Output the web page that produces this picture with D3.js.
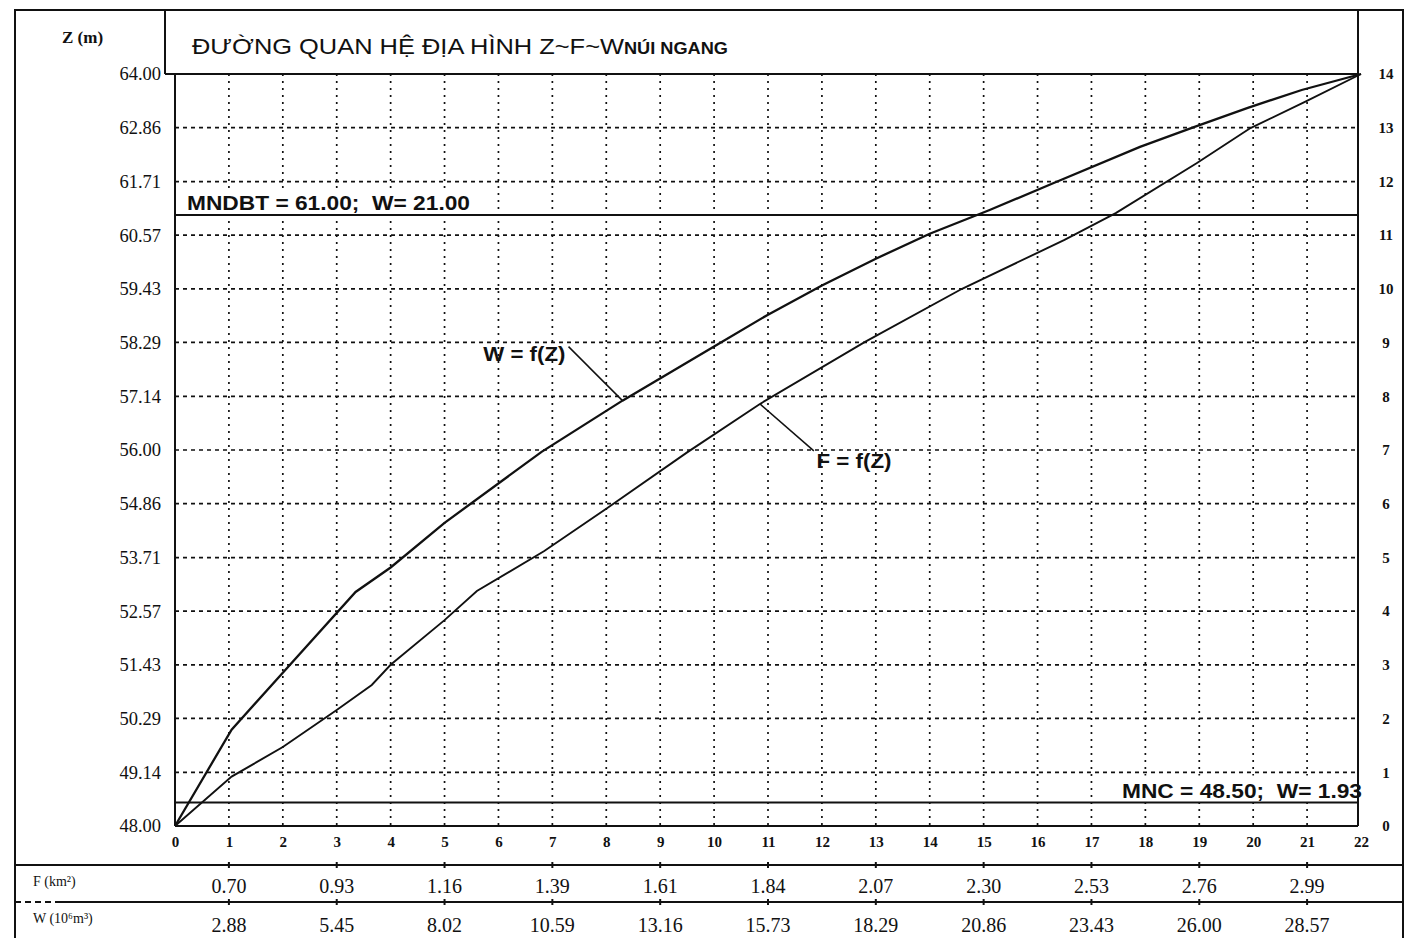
<!DOCTYPE html>
<html>
<head>
<meta charset="utf-8">
<script src="https://cdn.jsdelivr.net/npm/d3@7"></script>
<style>
body { margin: 0; background: #fff; }
text { fill: #111; }
</style>
</head>
<body>
<svg id="view" width="1413" height="938"></svg>
<script>
// left axis: Z (m)
var zTicks = [48.00, 49.14, 50.29, 51.43, 52.57, 53.71, 54.86, 56.00, 57.14, 58.29, 59.43, 60.57, 61.71, 62.86, 64.00];
// right axis
var rightTicks = [0, 1, 2, 3, 4, 5, 6, 7, 8, 9, 10, 11, 12, 13, 14];
// bottom axis
var xTicks = [0, 1, 2, 3, 4, 5, 6, 7, 8, 9, 10, 11, 12, 13, 14, 15, 16, 17, 18, 19, 20, 21, 22];

// table under the chart
var tableX = [1, 3, 5, 7, 9, 11, 13, 15, 17, 19, 21];
var fValues = ["0.70", "0.93", "1.16", "1.39", "1.61", "1.84", "2.07", "2.30", "2.53", "2.76", "2.99"];
var wValues = ["2.88", "5.45", "8.02", "10.59", "13.16", "15.73", "18.29", "20.86", "23.43", "26.00", "28.57"];

// W = f(Z) curve (x in axis units, Z in m)
var wX = [0, 1.05, 2.0, 3.35, 4.0, 5.0, 6.8, 8.3, 10.0, 11.0, 12.0, 13.0, 14.0, 15.1, 16.3, 17.9, 18.9, 19.9, 20.9, 22];
var wZ = [48, 50.05, 51.26, 52.98, 53.5, 54.45, 55.96, 57.05, 58.2, 58.88, 59.5, 60.07, 60.6, 61.1, 61.68, 62.45, 62.87, 63.28, 63.66, 64];

// F = f(Z) curve
var fX = [0, 1.05, 2.0, 3.0, 3.65, 4.0, 5.0, 5.6, 6.85, 8.0, 9.5, 10.85, 12.8, 14.6, 16.5, 17.45, 18.95, 19.95, 20.95, 22];
var fZ = [48, 49.05, 49.68, 50.47, 51.0, 51.43, 52.38, 53.0, 53.85, 54.75, 55.95, 56.98, 58.3, 59.43, 60.47, 61.04, 62.1, 62.85, 63.4, 64];

// reference levels
var mndbt = 61.00, mnc = 48.50;

var svg = d3.select("#view");
var serif = "'Liberation Serif', 'Times New Roman', serif";
var sans = "'Liberation Sans', Arial, sans-serif";

var x = d3.scaleLinear().domain([0, 22]).range([175, 1361]);
var y = d3.scaleLinear().domain([48, 64]).range([826, 74]);
var yr = d3.scaleLinear().domain([0, 14]).range([826, 74]);
var plotRight = 1358;

// frame
var frame = svg.append("g").attr("stroke", "#111").attr("fill", "none");
frame.append("rect").attr("x", 15).attr("y", 10).attr("width", 1388).attr("height", 950).attr("stroke-width", 2);
frame.append("line").attr("x1", 165).attr("x2", 165).attr("y1", 10).attr("y2", y(64)).attr("stroke-width", 2);
frame.append("line").attr("x1", plotRight).attr("x2", plotRight).attr("y1", 10).attr("y2", y(48)).attr("stroke-width", 2);

// grid
var grid = svg.append("g").attr("stroke", "#111").attr("stroke-width", 1.7);
grid.selectAll("line.v").data(xTicks.filter(d => d > 0 && d < 22)).join("line")
	.attr("class", "v")
	.attr("x1", d => x(d)).attr("x2", d => x(d))
	.attr("y1", y(64)).attr("y2", y(48))
	.attr("stroke-dasharray", "2,5");
grid.selectAll("line.h").data(zTicks.filter(d => d > 48 && d < 64)).join("line")
	.attr("class", "h")
	.attr("x1", x(0)).attr("x2", plotRight)
	.attr("y1", d => y(d)).attr("y2", d => y(d))
	.attr("stroke-dasharray", "4,4");

// plot borders
var axes = svg.append("g").attr("stroke", "#111").attr("stroke-width", 2);
axes.append("line").attr("x1", 165).attr("x2", plotRight).attr("y1", y(64)).attr("y2", y(64));
axes.append("line").attr("x1", x(0)).attr("x2", plotRight).attr("y1", y(48)).attr("y2", y(48));
axes.append("line").attr("x1", x(0)).attr("x2", x(0)).attr("y1", y(64)).attr("y2", y(48));

// left axis
svg.append("g")
	.attr("transform", "translate(161,0)")
	.call(d3.axisLeft(y).tickValues(zTicks).tickFormat(d3.format(".2f")).tickSize(0).tickPadding(0))
	.call(g => g.select(".domain").remove())
	.selectAll("text")
	.attr("font-family", serif).attr("font-size", 18.5).attr("fill", "#111");

// right axis
svg.append("g")
	.attr("transform", "translate(1386,0)")
	.call(d3.axisRight(yr).tickValues(rightTicks).tickFormat(d3.format("d")).tickSize(0).tickPadding(0))
	.call(g => g.select(".domain").remove())
	.selectAll("text")
	.attr("text-anchor", "middle")
	.attr("font-family", serif).attr("font-weight", "bold").attr("font-size", 15).attr("fill", "#111");

// bottom axis
svg.append("g")
	.attr("transform", "translate(0," + y(48) + ")")
	.call(d3.axisBottom(x).tickValues(xTicks).tickFormat(d3.format("d")).tickSize(0).tickPadding(10))
	.call(g => g.select(".domain").remove())
	.selectAll("text")
	.attr("font-family", serif).attr("font-weight", "bold").attr("font-size", 15).attr("fill", "#111");

// axis title + chart title
svg.append("text").attr("x", 62).attr("y", 43)
	.attr("font-family", serif).attr("font-weight", "bold").attr("font-size", 17)
	.text("Z (m)");
var title = svg.append("text").attr("x", 192).attr("y", 54).attr("font-family", sans);
title.append("tspan").attr("font-size", 22).attr("textLength", 432).attr("lengthAdjust", "spacingAndGlyphs")
	.text("ĐƯỜNG QUAN HỆ ĐỊA HÌNH Z~F~W");
title.append("tspan").attr("font-size", 16).attr("font-weight", "bold").attr("textLength", 104).attr("lengthAdjust", "spacingAndGlyphs")
	.text("NÚI NGANG");

// reference lines
svg.append("line").attr("x1", x(0)).attr("x2", plotRight).attr("y1", y(mndbt)).attr("y2", y(mndbt))
	.attr("stroke", "#111").attr("stroke-width", 2);
svg.append("line").attr("x1", x(0)).attr("x2", plotRight).attr("y1", y(mnc)).attr("y2", y(mnc))
	.attr("stroke", "#111").attr("stroke-width", 2);

svg.append("rect").attr("x", 178).attr("y", y(mndbt) - 27).attr("width", 300).attr("height", 25).attr("fill", "#fff");
svg.append("text").attr("x", 187).attr("y", y(mndbt) - 5)
	.attr("font-family", sans).attr("font-weight", "bold").attr("font-size", 20)
	.attr("textLength", 283).attr("lengthAdjust", "spacingAndGlyphs")
	.attr("xml:space", "preserve")
	.text("MNDBT = " + mndbt.toFixed(2) + ";  W= 21.00");

svg.append("rect").attr("x", 1115).attr("y", y(mnc) - 27).attr("width", 242).attr("height", 25).attr("fill", "#fff");
svg.append("text").attr("x", 1362).attr("y", y(mnc) - 5).attr("text-anchor", "end")
	.attr("font-family", sans).attr("font-weight", "bold").attr("font-size", 20)
	.attr("textLength", 240).attr("lengthAdjust", "spacingAndGlyphs")
	.attr("xml:space", "preserve")
	.text("MNC = " + mnc.toFixed(2) + ";  W= 1.93");

// curves
var line = d3.line().x(d => x(d[0])).y(d => y(d[1]));
var curves = svg.append("g").attr("fill", "none").attr("stroke", "#111").attr("stroke-width", 2.3);
curves.append("path").attr("d", line(d3.zip(wX, wZ)));
curves.append("path").attr("d", line(d3.zip(fX, fZ))).attr("stroke-width", 1.9);

// curve labels with leaders
var lab = svg.append("g").attr("font-family", sans).attr("font-weight", "bold").attr("font-size", 20);
lab.append("text").attr("x", x(5.72)).attr("y", y(57.9)).attr("textLength", 82).attr("lengthAdjust", "spacingAndGlyphs").text("W = f(Z)");
lab.append("line").attr("x1", x(7.3)).attr("y1", y(58.2)).attr("x2", x(8.3)).attr("y2", y(57.05))
	.attr("stroke", "#111").attr("stroke-width", 1.5);
lab.append("text").attr("x", x(11.9)).attr("y", y(55.62)).attr("textLength", 75).attr("lengthAdjust", "spacingAndGlyphs").text("F = f(Z)");
lab.append("line").attr("x1", x(10.85)).attr("y1", y(56.98)).attr("x2", x(11.85)).attr("y2", y(55.98))
	.attr("stroke", "#111").attr("stroke-width", 1.5);

// table
var table = svg.append("g").attr("stroke", "#111").attr("stroke-width", 2);
table.append("line").attr("x1", 15).attr("x2", 1403).attr("y1", 865).attr("y2", 865);
table.append("line").attr("x1", 15).attr("x2", 60).attr("y1", 902).attr("y2", 902).attr("stroke-dasharray", "6,4");
table.append("line").attr("x1", 60).attr("x2", 1403).attr("y1", 902).attr("y2", 902);
table.selectAll("line.t1").data(tableX).join("line").attr("class", "t1")
	.attr("x1", d => x(d)).attr("x2", d => x(d)).attr("y1", 862).attr("y2", 868);
table.selectAll("line.t2").data(tableX).join("line").attr("class", "t2")
	.attr("x1", d => x(d)).attr("x2", d => x(d)).attr("y1", 899).attr("y2", 905);

svg.append("text").attr("x", 33).attr("y", 886).attr("font-family", serif).attr("font-size", 14)
	.text("F (km²)");
svg.append("text").attr("x", 33).attr("y", 923).attr("font-family", serif).attr("font-size", 14)
	.text("W (10⁶m³)");

svg.append("g").selectAll("text").data(tableX).join("text")
	.attr("x", d => x(d)).attr("y", 893).attr("text-anchor", "middle")
	.attr("font-family", serif).attr("font-size", 20)
	.text((d, i) => fValues[i]);
svg.append("g").selectAll("text").data(tableX).join("text")
	.attr("x", d => x(d)).attr("y", 932).attr("text-anchor", "middle")
	.attr("font-family", serif).attr("font-size", 20)
	.text((d, i) => wValues[i]);
</script>
</body>
</html>
